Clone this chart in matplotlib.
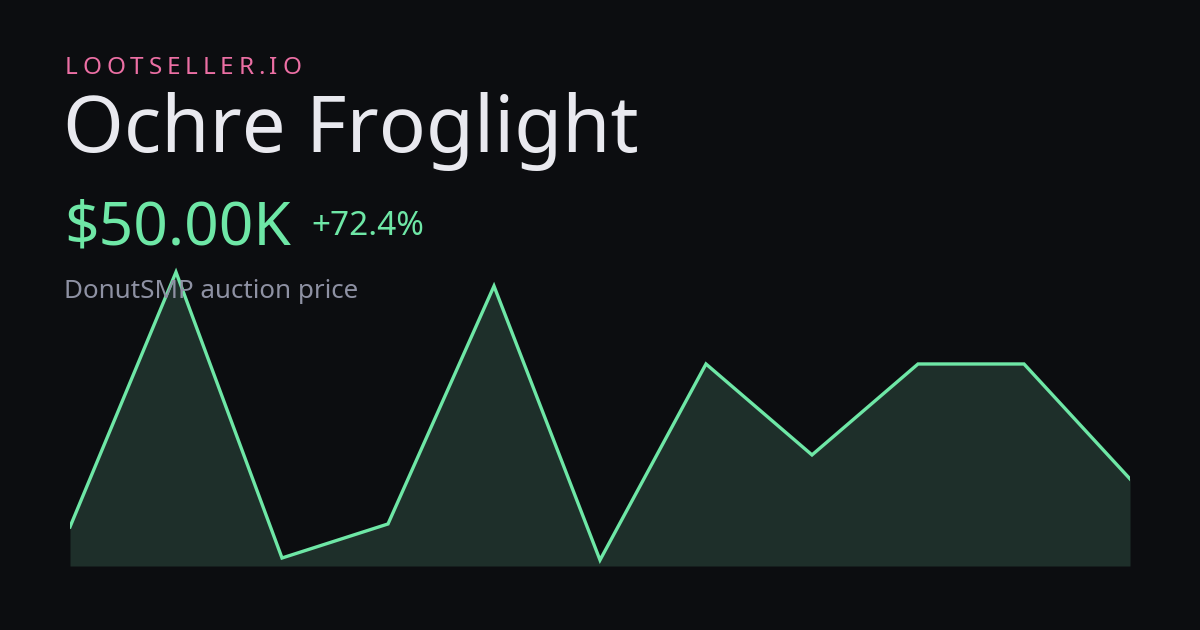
import numpy as np
import matplotlib
matplotlib.use("Agg")
import matplotlib.pyplot as plt

# price history (DonutSMP auction), oldest -> newest
prices = [29000, 140500, 15400, 30300, 134400, 14500, 100300, 60500, 100300, 100300, 50000]
brand = "LOOTSELLER.IO"
item_name = "Ochre Froglight"
price_label = "$50.00K"
change_label = "+72.4%"
subtitle = "DonutSMP auction price"

BG = "#0c0d10"
GREEN = "#6ee7a6"
FILL = "#1e2f2a"

plt.rcParams["font.family"] = ["Noto Sans", "DejaVu Sans"]

W, H = 1200, 630
fig = plt.figure(figsize=(12, 6.3), dpi=100, facecolor=BG)


def px(x, y):
    # pixel coords (top-left origin) -> figure fraction
    return x / W, 1 - y / H


# chart axes: x 70..1130, y 260..566 px
ax = fig.add_axes([70 / W, 1 - 566 / H, 1060 / W, (566 - 260) / H])
ax.set_facecolor("none")
xs = np.arange(len(prices))
ax.fill_between(xs, prices, 11900, color=FILL, lw=0, zorder=1)
ax.plot(xs, prices, color=GREEN, lw=2.4, solid_joinstyle="miter", zorder=2)
ax.set_xlim(0, len(prices) - 1)
ax.set_ylim(11900, 145800)
ax.axis("off")
ax.set_zorder(2)

# brand with letter spacing
renderer = fig.canvas.get_renderer()
x = 65
for ch in brand:
    t = fig.text(*px(x, 74), ch, color="#ec6fa4", fontsize=17.5, va="baseline", ha="left")
    w = t.get_window_extent(renderer).width
    x += w + 4.8

fig.text(*px(63, 152), item_name, color="#e9e9ef", fontsize=56.2, va="baseline")
fig.text(*px(64, 245), price_label, color=GREEN, fontsize=43.5, va="baseline")
fig.text(*px(311, 235), change_label, color=GREEN, fontsize=24, va="baseline")
fig.text(*px(64, 298), subtitle, color="#8e91a3", fontsize=18.7, va="baseline")

fig.savefig("out.png", dpi=100, facecolor=BG)
